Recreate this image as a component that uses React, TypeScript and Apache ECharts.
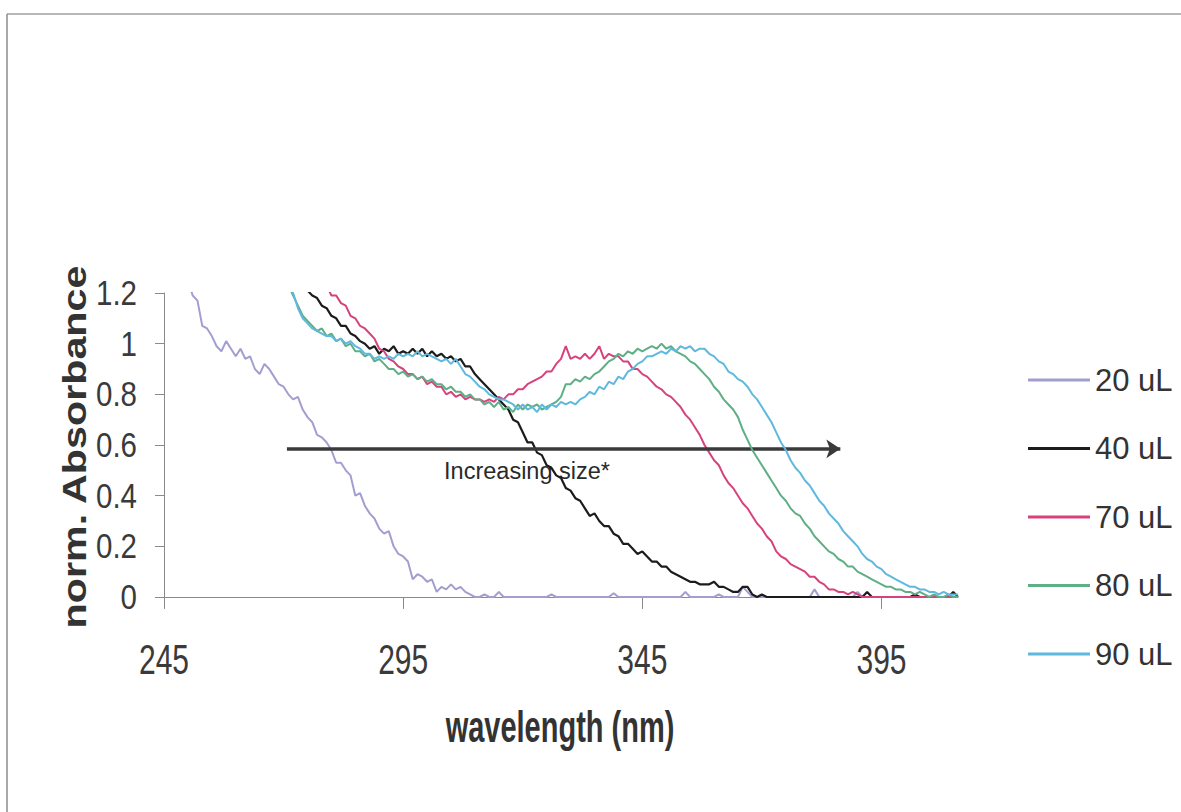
import React, { useEffect, useRef } from "react";
import * as echarts from "echarts";

// ---------- data ----------
const WAVELENGTH = [
  250, 251, 252, 253, 254, 255, 256, 257, 258, 259,
  260, 261, 262, 263, 264, 265, 266, 267, 268, 269,
  270, 271, 272, 273, 274, 275, 276, 277, 278, 279,
  280, 281, 282, 283, 284, 285, 286, 287, 288, 289,
  290, 291, 292, 293, 294, 295, 296, 297, 298, 299,
  300, 301, 302, 303, 304, 305, 306, 307, 308, 309,
  310, 311, 312, 313, 314, 315, 316, 317, 318, 319,
  320, 321, 322, 323, 324, 325, 326, 327, 328, 329,
  330, 331, 332, 333, 334, 335, 336, 337, 338, 339,
  340, 341, 342, 343, 344, 345, 346, 347, 348, 349,
  350, 351, 352, 353, 354, 355, 356, 357, 358, 359,
  360, 361, 362, 363, 364, 365, 366, 367, 368, 369,
  370, 371, 372, 373, 374, 375, 376, 377, 378, 379,
  380, 381, 382, 383, 384, 385, 386, 387, 388, 389,
  390, 391, 392, 393, 394, 395, 396, 397, 398, 399,
  400, 401, 402, 403, 404, 405, 406, 407, 408, 409,
  410, 411,
];

const SERIES_NAMES = ["20 uL", "40 uL", "70 uL", "80 uL", "90 uL"];

const ABS_20 = [
  1.25, 1.19, 1.17, 1.07, 1.06, 1.03, 0.99, 0.97, 1.01, 0.98,
  0.95, 0.98, 0.94, 0.95, 0.90, 0.88, 0.92, 0.90, 0.87, 0.84,
  0.83, 0.80, 0.78, 0.79, 0.74, 0.71, 0.69, 0.64, 0.63, 0.61,
  0.58, 0.53, 0.53, 0.50, 0.48, 0.40, 0.41, 0.36, 0.33, 0.31,
  0.27, 0.25, 0.26, 0.20, 0.17, 0.16, 0.14, 0.07, 0.09, 0.08,
  0.06, 0.07, 0.02, 0.04, 0.03, 0.05, 0.03, 0.04, 0.02, 0.01,
  0, 0, 0.01, 0, 0, 0.02, 0, 0, 0, 0,
  0, 0, 0, 0, 0, 0, 0.01, 0, 0, 0,
  0, 0, 0, 0, 0, 0, 0, 0, 0, 0.015,
  0, 0, 0, 0, 0, 0, 0, 0, 0, 0,
  0, 0, 0, 0, 0.02, 0, 0, 0, 0, 0,
  0, 0.01, 0, 0, 0, 0, 0.04, 0.02, 0, 0,
  0, 0, 0, 0, 0, 0, 0, 0, 0, 0,
  0, 0.03, 0, 0, 0, 0, 0, 0, 0, 0,
  0.02, 0, 0, 0, 0, 0, 0, 0, 0, 0,
  0, 0, 0, 0, 0, 0, 0, 0, 0, 0,
  0, 0,
];

const ABS_40 = [
  null, null, null, null, null, null, null, null, null, null,
  null, null, null, null, null, null, null, null, null, null,
  null, null, null, null, 1.24, 1.21, 1.19, 1.18, 1.15, 1.14,
  1.11, 1.10, 1.07, 1.07, 1.04, 1.03, 1.01, 1.00, 0.98, 0.99,
  0.96, 0.98, 0.97, 0.99, 0.96, 0.97, 0.96, 0.98, 0.96, 0.98,
  0.95, 0.97, 0.95, 0.96, 0.94, 0.95, 0.93, 0.94, 0.91, 0.91,
  0.88, 0.86, 0.84, 0.82, 0.80, 0.78, 0.76, 0.74, 0.70, 0.69,
  0.65, 0.61, 0.61, 0.57, 0.56, 0.52, 0.51, 0.48, 0.47, 0.43,
  0.42, 0.39, 0.38, 0.35, 0.32, 0.33, 0.30, 0.28, 0.28, 0.25,
  0.24, 0.21, 0.21, 0.19, 0.17, 0.18, 0.16, 0.14, 0.14, 0.12,
  0.12, 0.10, 0.09, 0.08, 0.07, 0.06, 0.06, 0.05, 0.05, 0.05,
  0.06, 0.04, 0.04, 0.03, 0.02, 0.02, 0.04, 0.04, 0.01, 0,
  0.01, 0, 0, 0, 0, 0, 0, 0, 0, 0,
  0, 0, 0, 0, 0, 0, 0, 0, 0, 0,
  0, 0, 0.02, 0, 0, 0, 0, 0, 0, 0,
  0, 0, 0.01, 0, 0, 0, 0, 0, 0, 0,
  0.02, 0,
];

const ABS_70 = [
  null, null, null, null, null, null, null, null, null, null,
  null, null, null, null, null, null, null, null, null, null,
  null, null, null, null, null, null, null, null, null, 1.23,
  1.19, 1.19, 1.16, 1.15, 1.11, 1.10, 1.07, 1.06, 1.04, 1.02,
  0.98, 0.97, 0.94, 0.93, 0.91, 0.90, 0.88, 0.88, 0.86, 0.87,
  0.84, 0.85, 0.83, 0.83, 0.80, 0.81, 0.79, 0.80, 0.78, 0.79,
  0.78, 0.78, 0.77, 0.78, 0.77, 0.79, 0.78, 0.80, 0.80, 0.82,
  0.82, 0.84, 0.85, 0.86, 0.87, 0.89, 0.89, 0.92, 0.94, 0.99,
  0.94, 0.95, 0.94, 0.96, 0.94, 0.96, 0.99, 0.94, 0.96, 0.95,
  0.95, 0.93, 0.93, 0.90, 0.90, 0.88, 0.87, 0.85, 0.83, 0.82,
  0.80, 0.79, 0.77, 0.75, 0.72, 0.70, 0.67, 0.64, 0.60, 0.57,
  0.54, 0.52, 0.48, 0.45, 0.43, 0.40, 0.37, 0.35, 0.32, 0.29,
  0.27, 0.24, 0.22, 0.18, 0.16, 0.15, 0.13, 0.12, 0.11, 0.10,
  0.08, 0.08, 0.06, 0.05, 0.03, 0.03, 0.02, 0.02, 0.01, 0.02,
  0.01, 0, 0, 0, 0, 0, 0, 0, 0, 0,
  0, 0, 0, 0, 0, 0, 0, 0, 0, 0,
  0, 0,
];

const ABS_80 = [
  null, null, null, null, null, null, null, null, null, null,
  null, null, null, null, null, null, null, null, null, null,
  null, 1.23, 1.19, 1.15, 1.11, 1.09, 1.07, 1.05, 1.06, 1.03,
  1.04, 1.01, 1.02, 0.99, 1.00, 0.97, 0.97, 0.95, 0.96, 0.93,
  0.94, 0.92, 0.90, 0.90, 0.88, 0.89, 0.87, 0.88, 0.86, 0.87,
  0.85, 0.86, 0.84, 0.84, 0.82, 0.83, 0.81, 0.81, 0.79, 0.80,
  0.78, 0.78, 0.76, 0.77, 0.75, 0.77, 0.74, 0.75, 0.73, 0.76,
  0.74, 0.76, 0.75, 0.76, 0.74, 0.75, 0.76, 0.77, 0.79, 0.84,
  0.84, 0.86, 0.85, 0.87, 0.86, 0.88, 0.89, 0.91, 0.93, 0.94,
  0.96, 0.95, 0.97, 0.96, 0.98, 0.97, 0.98, 0.99, 0.98, 1.00,
  0.98, 0.99, 0.97, 0.96, 0.95, 0.93, 0.92, 0.90, 0.88, 0.86,
  0.83, 0.81, 0.78, 0.76, 0.74, 0.71, 0.66, 0.62, 0.58, 0.55,
  0.52, 0.49, 0.46, 0.43, 0.40, 0.38, 0.35, 0.33, 0.32, 0.29,
  0.27, 0.24, 0.22, 0.20, 0.18, 0.17, 0.15, 0.14, 0.12, 0.12,
  0.10, 0.09, 0.08, 0.07, 0.06, 0.05, 0.04, 0.04, 0.03, 0.03,
  0.02, 0.02, 0.01, 0.02, 0.01, 0, 0.01, 0, 0, 0.01,
  0, 0,
];

const ABS_90 = [
  null, null, null, null, null, null, null, null, null, null,
  null, null, null, null, null, null, null, null, null, null,
  null, 1.23, 1.20, 1.14, 1.10, 1.08, 1.06, 1.05, 1.04, 1.03,
  1.03, 1.01, 1.02, 1.00, 1.01, 0.99, 0.98, 0.96, 0.96, 0.94,
  0.95, 0.94, 0.95, 0.94, 0.96, 0.95, 0.96, 0.95, 0.97, 0.95,
  0.96, 0.95, 0.94, 0.93, 0.94, 0.92, 0.94, 0.91, 0.88, 0.87,
  0.85, 0.83, 0.82, 0.80, 0.79, 0.78, 0.78, 0.77, 0.76, 0.74,
  0.76, 0.74, 0.75, 0.73, 0.76, 0.74, 0.76, 0.75, 0.77, 0.76,
  0.77, 0.76, 0.78, 0.79, 0.81, 0.80, 0.83, 0.82, 0.85, 0.84,
  0.87, 0.86, 0.89, 0.90, 0.92, 0.93, 0.95, 0.95, 0.96, 0.97,
  0.96, 0.98, 0.97, 0.99, 0.98, 0.99, 0.97, 0.98, 0.98, 0.96,
  0.95, 0.93, 0.92, 0.89, 0.88, 0.86, 0.85, 0.83, 0.80, 0.78,
  0.75, 0.72, 0.69, 0.65, 0.61, 0.58, 0.54, 0.51, 0.49, 0.46,
  0.44, 0.41, 0.38, 0.36, 0.33, 0.31, 0.29, 0.26, 0.24, 0.22,
  0.20, 0.17, 0.15, 0.14, 0.12, 0.11, 0.09, 0.08, 0.07, 0.06,
  0.05, 0.04, 0.04, 0.03, 0.03, 0.02, 0.02, 0.01, 0.02, 0.01,
  0.01, 0.01,
];

const SERIES_VALUES = [ABS_20, ABS_40, ABS_70, ABS_80, ABS_90];
const SERIES_COLORS = ["#a29fd0", "#1c1c1c", "#d6437c", "#5eae86", "#5fb9de"];

const X_TICKS = [245, 295, 345, 395];
const X_TICK_LABELS = ["245", "295", "345", "395"];
const Y_TICKS = [0, 0.2, 0.4, 0.6, 0.8, 1, 1.2];
const Y_TICK_LABELS = ["0", "0.2", "0.4", "0.6", "0.8", "1", "1.2"];
const X_MIN = 245;
const X_MAX = 411;
const Y_MIN = 0;
const Y_MAX = 1.2;
const Y_STEP = 0.2;

const ARROW_FROM = [270.7, 0.585];
const ARROW_TO = [386.4, 0.585];
const ARROW_LABEL = "Increasing size*";
const X_TITLE = "wavelength (nm)";
const Y_TITLE = "norm. Absorbance";

const SANS = '"Liberation Sans", Arial, Helvetica, sans-serif';

function buildOption(): any {
  const series: any[] = SERIES_NAMES.map((name, i) => ({
    name,
    type: "line",
    data: WAVELENGTH.map((w, j) => [w, SERIES_VALUES[i][j]]),
    symbol: "none",
    showSymbol: false,
    color: SERIES_COLORS[i],
    lineStyle: { width: i === 1 ? 2.2 : 2, color: SERIES_COLORS[i] },
    clip: true,
    z: 2 + i,
  }));

  series.push({
    name: "arrow",
    type: "line",
    data: [],
    z: 10,
    markLine: {
      silent: true,
      animation: false,
      symbol: ["none", "arrow"],
      symbolSize: 14,
      lineStyle: { color: "#3a3a3a", width: 3.5, type: "solid" },
      itemStyle: { color: "#3a3a3a" },
      label: { show: false },
      data: [[
        { coord: ARROW_FROM, symbol: "none" },
        { coord: ARROW_TO, symbol: "arrow", symbolSize: 14 },
      ]],
    },
  });

  return {
    animation: false,
    backgroundColor: "#ffffff",
    grid: { left: 164, top: 293, right: 223, bottom: 215, containLabel: false, outerBoundsMode: "none" },
    xAxis: {
      type: "value",
      min: X_MIN,
      max: X_MAX,
      axisLine: { show: true, lineStyle: { color: "#8a8a8a", width: 1 } },
      axisTick: { show: true, length: 12, inside: false, customValues: X_TICKS, lineStyle: { color: "#8a8a8a" } },
      axisLabel: { show: false },
      splitLine: { show: false },
    },
    yAxis: {
      type: "value",
      min: Y_MIN,
      max: Y_MAX,
      interval: Y_STEP,
      axisLine: { show: true, lineStyle: { color: "#8a8a8a", width: 1 } },
      axisTick: { show: true, length: 9, inside: false, lineStyle: { color: "#8a8a8a" } },
      axisLabel: { show: false },
      splitLine: { show: false },
    },
    legend: {
      data: SERIES_NAMES,
      orient: "vertical",
      left: 1028,
      top: 362,
      padding: 0,
      itemWidth: 62,
      itemHeight: 3,
      itemGap: 32.5,
      icon: "rect",
      selectedMode: false,
      textStyle: { fontSize: 31, fontFamily: SANS, color: "#333333", lineHeight: 36 },
    },
    series,
  };
}

function textStyle(text: string, size: number, bold: boolean, align: string, fill: string) {
  return {
    text,
    fontSize: size,
    fontWeight: bold ? "bold" : "normal",
    fontFamily: SANS,
    fill,
    align,
    verticalAlign: "middle",
    textAlign: align,
    textVerticalAlign: "middle",
  };
}

function buildGraphics(chart: any): any[] {
  const g: any[] = [
    { type: "line", shape: { x1: 7, y1: 14, x2: 1181, y2: 14 }, style: { stroke: "#a0a0a0", lineWidth: 1.5 }, silent: true },
    { type: "line", shape: { x1: 7, y1: 14, x2: 7, y2: 812 }, style: { stroke: "#8c8c8c", lineWidth: 1.5 }, silent: true },
    { type: "text", x: 560, y: 727, scaleY: 1.55, silent: true, style: textStyle(X_TITLE, 29, true, "center", "#333333") },
    { type: "text", x: 75, y: 447, rotation: Math.PI / 2, scaleX: 1.25, silent: true, style: textStyle(Y_TITLE, 33, true, "center", "#333333") },
    { type: "text", x: 527, y: 471, silent: true, style: textStyle(ARROW_LABEL, 23.5, false, "center", "#2a2a2a") },
  ];
  X_TICKS.forEach((v, i) => {
    const p = chart.convertToPixel({ gridIndex: 0 }, [v, Y_MIN]);
    g.push({ type: "text", x: p[0], y: p[1] + 63, scaleY: 1.4, silent: true, style: textStyle(X_TICK_LABELS[i], 30, false, "center", "#3a3a3a") });
  });
  Y_TICKS.forEach((v, i) => {
    const p = chart.convertToPixel({ gridIndex: 0 }, [X_MIN, v]);
    g.push({ type: "text", x: p[0] - 27, y: p[1], scaleY: 1.2, silent: true, style: textStyle(Y_TICK_LABELS[i], 29.5, false, "right", "#3a3a3a") });
  });
  return g;
}

export default function App() {
  const ref = useRef<HTMLDivElement>(null);
  useEffect(() => {
    if (!ref.current) return;
    const chart = echarts.init(ref.current, null, { renderer: "svg" });
    chart.setOption(buildOption());
    chart.setOption({ graphic: buildGraphics(chart) });
    return () => {
      chart.dispose();
    };
  }, []);
  return (
    <div
      ref={ref}
      style={{ position: "absolute", left: 0, top: 0, width: 1181, height: 812, background: "#ffffff" }}
    />
  );
}
